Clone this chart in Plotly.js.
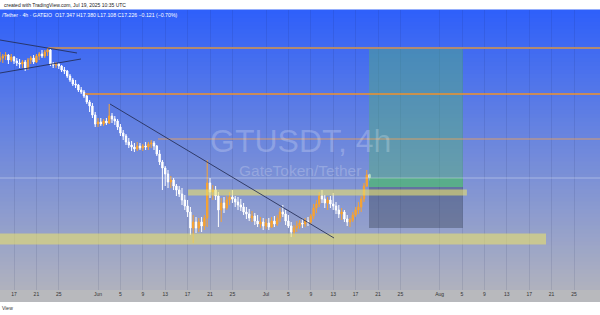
<!DOCTYPE html>
<html><head><meta charset="utf-8">
<script src="https://cdn.plot.ly/plotly-3.0.1.min.js"></script>
<style>html,body{margin:0;padding:0;background:#fff;}#chart{width:600px;height:315px;}</style>
</head><body><div id="chart"></div>
<script>
// ---- data (12h candles, GTUSDT) ----
const candleStart = Date.UTC(2025, 4, 14, 12, 0);
const candleHours = 12;
const openP = [21.93,22.01,22.09,22.13,21.93,22.05,21.89,21.81,21.77,21.85,
21.61,21.93,22.01,21.85,22.09,22.17,22.09,22.25,22.33,21.77,
21.73,21.77,21.69,21.53,21.49,21.29,21.13,20.97,20.93,20.73,
20.65,20.49,20.25,20.09,19.73,19.37,19.45,19.37,19.49,19.41,
19.69,19.57,19.49,19.25,19.01,18.89,18.65,18.53,18.45,18.37,
18.49,18.41,18.49,18.45,18.57,18.61,18.49,18.17,17.85,17.61,
17.37,17.05,17.13,16.89,16.73,16.57,16.33,16.09,15.85,15.21,
15.45,15.21,15.45,15.29,15.61,17.01,16.65,16.73,16.49,15.93,
16.21,16.01,16.33,16.45,16.37,16.25,16.13,16.05,15.85,15.77,
15.61,15.69,15.49,15.37,15.45,15.29,15.41,15.25,15.49,15.37,
15.61,15.85,15.77,15.49,15.29,15.05,15.21,15.29,15.41,15.37,
15.49,15.45,15.69,16.01,16.17,16.49,16.37,16.21,16.33,16.17,
16.09,15.93,15.77,15.85,15.57,15.45,15.53,15.73,15.93,16.05,
16.37,16.89,17.347];
const highP = [22.25,22.17,22.25,22.17,22.17,22.09,22.01,21.97,21.93,21.93,
22.01,22.09,22.13,22.17,22.25,22.33,22.33,22.41,22.37,21.85,
21.85,21.81,21.73,21.65,21.53,21.37,21.21,21.13,20.97,20.85,
20.73,20.53,20.33,20.21,19.85,19.61,19.61,19.57,19.61,20.17,
19.81,19.69,19.57,19.37,19.13,18.97,18.81,18.69,18.61,18.65,
18.61,18.57,18.65,18.65,18.73,18.69,18.53,18.33,17.93,17.69,
17.53,17.29,17.21,16.97,16.89,16.81,16.53,16.33,16.05,15.73,
15.65,15.61,15.65,15.73,17.93,17.21,16.93,16.89,16.65,16.41,
16.45,16.49,16.65,16.73,16.49,16.45,16.37,16.21,16.05,15.97,
15.89,15.81,15.73,15.65,15.61,15.57,15.61,15.65,15.69,15.73,
16.01,16.13,15.93,15.73,15.45,15.33,15.49,15.53,15.57,15.61,
15.65,15.77,16.17,16.33,16.65,16.73,16.53,16.45,16.49,16.61,
16.25,16.13,16.01,15.93,15.73,15.61,15.85,16.05,16.25,16.49,
17.01,17.53,17.380];
const lowP = [21.85,21.81,21.93,21.77,21.85,21.77,21.69,21.61,21.61,21.49,
21.53,21.77,21.77,21.81,21.93,22.01,22.01,22.09,21.69,21.61,
21.61,21.57,21.45,21.37,21.21,21.05,20.89,20.81,20.65,20.57,
20.41,20.17,19.85,19.61,19.25,19.25,19.29,19.29,19.33,19.37,
19.41,19.33,19.13,18.89,18.73,18.53,18.41,18.29,18.25,18.29,
18.33,18.29,18.33,18.33,18.41,18.33,18.09,17.73,16.73,16.89,
16.81,16.81,16.73,16.49,16.45,16.13,15.93,15.65,14.93,14.61,
15.01,15.05,15.05,15.13,15.25,16.41,16.33,16.33,15.25,15.45,
15.81,15.93,16.13,16.21,16.05,15.93,15.89,15.73,15.57,15.49,
15.45,15.33,15.25,15.21,15.13,15.17,15.13,15.21,15.25,15.29,
15.45,15.65,15.33,15.21,14.85,14.85,15.05,15.17,15.21,15.25,
15.29,15.37,15.57,15.81,16.05,16.21,16.01,15.93,16.01,15.93,
15.77,15.61,15.53,15.45,15.29,15.25,15.45,15.65,15.77,15.85,
16.25,16.85,17.108];
const closeP = [22.01,22.09,22.13,21.93,22.05,21.89,21.81,21.77,21.85,21.61,
21.93,22.01,21.85,22.09,22.17,22.09,22.25,22.33,21.77,21.73,
21.77,21.69,21.53,21.49,21.29,21.13,20.97,20.93,20.73,20.65,
20.49,20.25,20.09,19.73,19.37,19.45,19.37,19.49,19.41,19.69,
19.57,19.49,19.25,19.01,18.89,18.65,18.53,18.45,18.37,18.49,
18.41,18.49,18.45,18.57,18.61,18.49,18.17,17.85,17.61,17.37,
17.05,17.13,16.89,16.73,16.57,16.33,16.09,15.85,15.21,15.45,
15.21,15.45,15.29,15.61,17.01,16.65,16.73,16.49,15.93,16.21,
16.01,16.33,16.45,16.37,16.25,16.13,16.05,15.85,15.77,15.61,
15.69,15.49,15.37,15.45,15.29,15.41,15.25,15.49,15.37,15.61,
15.85,15.77,15.49,15.29,15.05,15.21,15.29,15.41,15.37,15.49,
15.45,15.69,16.01,16.17,16.49,16.37,16.21,16.33,16.17,16.09,
15.93,15.77,15.85,15.57,15.45,15.53,15.73,15.93,16.05,16.37,
16.89,17.33,17.226];

const tickDates = ['2025-05-17','2025-05-21','2025-05-25','2025-06-01','2025-06-05','2025-06-09','2025-06-13','2025-06-17','2025-06-21','2025-06-25','2025-07-01','2025-07-05','2025-07-09','2025-07-13','2025-07-17','2025-07-21','2025-07-25','2025-08-01','2025-08-05','2025-08-09','2025-08-13','2025-08-17','2025-08-21','2025-08-25'];
const tickLabels = ['17','21','25','Jun','5','9','13','17','21','25','Jul','5','9','13','17','21','25','Aug','5','9','13','17','21','25'];

// drawings (price levels and their start dates)
const levelPrices = [22.41, 20.57, 18.77];
const levelStarts = ['2025-05-23 02:00','2025-05-29 16:00','2025-06-11 17:00'];
const levelColors = ['#b38a70','#f0922b','rgba(236,160,90,0.85)'];
const levelWidths = [2, 1.6, 1];
const lastPriceLine = 17.21;
const zoneUpper = [16.51, 16.75], zoneUpperX = ['2025-06-17 02:00','2025-08-05 21:00'];
const zoneLower = [14.55, 14.99], zoneLowerX = ['2025-05-14 12:00','2025-08-20 00:00'];
const posX = ['2025-07-19 09:30','2025-08-05 04:00'];
const posTarget = 22.41, posEntry = 16.85, posStop = 15.21, posCurrent = 17.21;
const trendLines = [
  [['2025-05-14 12:00',22.73],['2025-05-28 06:00',22.21]],
  [['2025-05-14 12:00',21.41],['2025-05-28 23:00',21.97]],
  [['2025-06-03 03:30',20.17],['2025-07-13 03:30',14.81]]
];

// ---- build ----
function fmt(ms){const d=new Date(ms);const p=n=>String(n).padStart(2,'0');
  return d.getUTCFullYear()+'-'+p(d.getUTCMonth()+1)+'-'+p(d.getUTCDate())+' '+p(d.getUTCHours())+':'+p(d.getUTCMinutes());}
const times = openP.map((_,i)=>fmt(candleStart + i*candleHours*3600*1000));

const plotTop=10, plotBot=290, plotH=plotBot-plotTop;
const py = px => (plotBot-px)/plotH;
const shapes=[];
const topC=[46,95,250], botC=[176,178,190], N=70;
for(let k=0;k<N;k++){
  const t=(k+0.5)/N;
  const c=topC.map((v,j)=>Math.round(v+(botC[j]-v)*t));
  shapes.push({type:'rect',xref:'paper',yref:'paper',x0:0,x1:1,y0:1-k/N+0.002,y1:1-(k+1)/N,
    fillcolor:'rgb('+c.join(',')+')',line:{width:0},layer:'below'});
}
// axis strip
shapes.push({type:'rect',xref:'paper',yref:'paper',x0:0,x1:1,y0:py(302),y1:0,fillcolor:'#b8b9bd',line:{width:0},layer:'below'});

const xEnd='2025-08-29 15:26';
// zones
shapes.push({type:'rect',xref:'x',yref:'y',x0:zoneLowerX[0],x1:zoneLowerX[1],y0:zoneLower[0],y1:zoneLower[1],fillcolor:'rgba(232,224,110,0.6)',line:{width:0},layer:'above'});
// position tool
shapes.push({type:'rect',xref:'x',yref:'y',x0:posX[0],x1:posX[1],y0:posEntry,y1:posTarget,fillcolor:'rgba(80,175,120,0.45)',line:{width:0},layer:'above'});
shapes.push({type:'rect',xref:'x',yref:'y',x0:posX[0],x1:posX[1],y0:posEntry,y1:posCurrent,fillcolor:'rgba(70,190,100,0.45)',line:{width:0},layer:'above'});
shapes.push({type:'rect',xref:'x',yref:'y',x0:posX[0],x1:posX[1],y0:posStop,y1:posEntry,fillcolor:'rgba(50,60,80,0.38)',line:{width:0},layer:'above'});
shapes.push({type:'rect',xref:'x',yref:'y',x0:zoneUpperX[0],x1:zoneUpperX[1],y0:zoneUpper[0],y1:zoneUpper[1],fillcolor:'rgba(232,224,110,0.6)',line:{width:0},layer:'above'});
// last price line
shapes.push({type:'line',xref:'paper',yref:'y',x0:0,x1:1,y0:lastPriceLine,y1:lastPriceLine,line:{color:'rgba(255,255,255,0.35)',width:1},layer:'above'});
// horizontal levels
levelPrices.forEach((p,i)=>shapes.push({type:'line',xref:'x',yref:'y',x0:levelStarts[i],x1:xEnd,y0:p,y1:p,line:{color:levelColors[i],width:levelWidths[i]},layer:'above'}));
// trend lines
trendLines.forEach(l=>shapes.push({type:'line',xref:'x',yref:'y',x0:l[0][0],y0:l[0][1],x1:l[1][0],y1:l[1][1],line:{color:'rgba(35,45,85,0.85)',width:1},layer:'above'}));

const annotations=[
  {text:'GTUSDT, 4h',xref:'paper',yref:'paper',x:0.5,y:py(141),xanchor:'center',yanchor:'middle',showarrow:false,
   font:{family:'Liberation Sans, Arial, sans-serif',size:32,color:'rgba(255,255,255,0.22)'}},
  {text:'GateToken/Tether',xref:'paper',yref:'paper',x:0.5,y:py(170),xanchor:'center',yanchor:'middle',showarrow:false,
   font:{family:'Liberation Sans, Arial, sans-serif',size:15.5,color:'rgba(255,255,255,0.22)'}},
  {text:'created with TradingView.com, Jul 19, 2025 10:35 UTC',xref:'paper',yref:'paper',x:0.003,y:py(5),xanchor:'left',yanchor:'middle',showarrow:false,
   font:{family:'Liberation Sans, Arial, sans-serif',size:5,color:'#222'}},
  {text:'/Tether · 4h · GATEIO  O17.347 H17.380 L17.108 C17.226 −0.121 (−0.70%)',xref:'paper',yref:'paper',x:0,y:py(15),xanchor:'left',yanchor:'middle',showarrow:false,
   font:{family:'Liberation Sans, Arial, sans-serif',size:5.2,color:'#ffffff'}},
  {text:'View',xref:'paper',yref:'paper',x:0,y:py(308),xanchor:'left',yanchor:'middle',showarrow:false,
   font:{family:'Liberation Sans, Arial, sans-serif',size:5,color:'#333'}}
];

const trace={type:'candlestick',x:times,open:openP,high:highP,low:lowP,close:closeP,
  increasing:{line:{color:'#f6a233',width:1},fillcolor:'#f6a233'},
  decreasing:{line:{color:'#ffffff',width:1},fillcolor:'#ffffff'},
  whiskerwidth:0,hoverinfo:'skip'};

const layout={width:600,height:315,margin:{l:0,r:0,t:plotTop,b:315-plotBot,pad:0},
  paper_bgcolor:'#ffffff',plot_bgcolor:'rgba(0,0,0,0)',showlegend:false,
  xaxis:{type:'date',range:['2025-05-14 12:00',xEnd],tickmode:'array',tickvals:tickDates,ticktext:tickLabels,
    showgrid:true,gridcolor:'rgba(20,30,80,0.10)',gridwidth:1,ticks:'',showline:false,zeroline:false,
    tickfont:{family:'Liberation Sans, Arial, sans-serif',size:5,color:'#333'},rangeslider:{visible:false},fixedrange:true},
  yaxis:{range:[12.73,23.93],showticklabels:false,showgrid:false,zeroline:false,showline:false,ticks:'',fixedrange:true},
  shapes:shapes,annotations:annotations};
Plotly.newPlot('chart',[trace],layout,{staticPlot:true,displayModeBar:false});
</script></body></html>
